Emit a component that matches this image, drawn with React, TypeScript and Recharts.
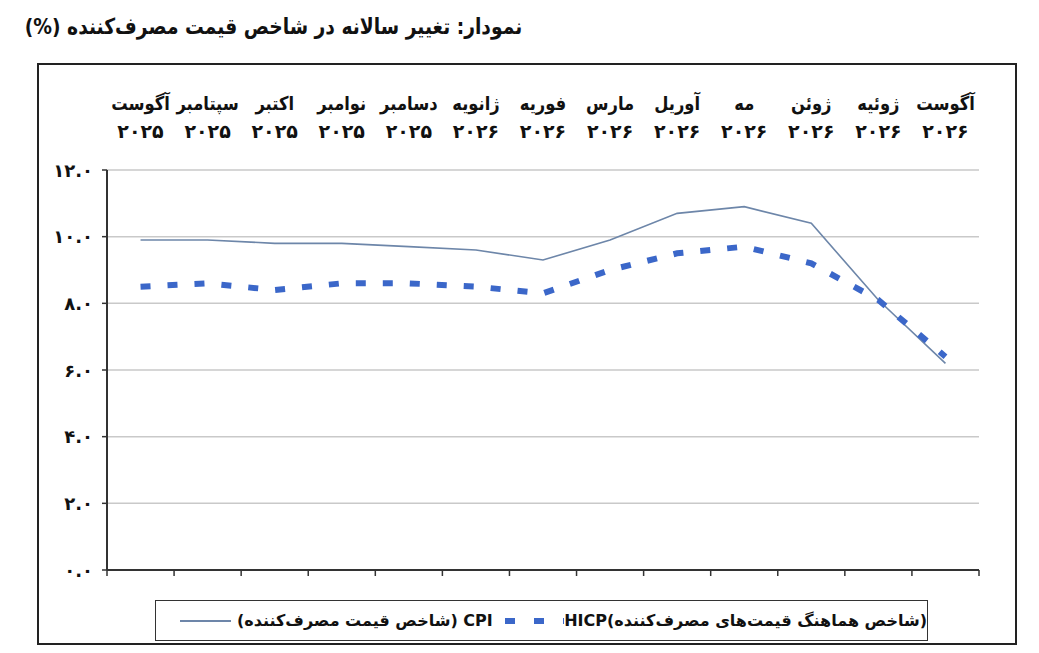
import React from 'react';
import { LineChart, Line, XAxis, YAxis, CartesianGrid, Legend } from 'recharts';

const months = ['آگوست', 'سپتامبر', 'اکتبر', 'نوامبر', 'دسامبر', 'ژانویه', 'فوریه', 'مارس', 'آوریل', 'مه', 'ژوئن', 'ژوئیه', 'آگوست'];
const years = ['۲۰۲۵', '۲۰۲۵', '۲۰۲۵', '۲۰۲۵', '۲۰۲۵', '۲۰۲۶', '۲۰۲۶', '۲۰۲۶', '۲۰۲۶', '۲۰۲۶', '۲۰۲۶', '۲۰۲۶', '۲۰۲۶'];
const cpi = [9.9, 9.9, 9.8, 9.8, 9.7, 9.6, 9.3, 9.9, 10.7, 10.9, 10.4, 8.1, 6.2];
const hicp = [8.5, 8.6, 8.4, 8.6, 8.6, 8.5, 8.3, 9.0, 9.5, 9.7, 9.2, 8.1, 6.4];
const yTicks = [0, 2, 4, 6, 8, 10, 12];
const yLabels = ['۰.۰', '۲.۰', '۴.۰', '۶.۰', '۸.۰', '۱۰.۰', '۱۲.۰'];
const title = 'نمودار: تغییر سالانه در شاخص قیمت مصرف‌کننده (%)';
const cpiName = 'CPI (شاخص قیمت مصرف‌کننده)';
const hicpName = '(شاخص هماهنگ قیمت‌های مصرف‌کننده)HICP';

const data = months.map((m, i) => ({ x: i + 0.5, month: m, year: years[i], cpi: cpi[i], hicp: hicp[i] }));
const boundaryTicks = months.map((_, i) => i).concat([months.length]);
const centerTicks = months.map((_, i) => i + 0.5);

const FONT = '"DejaVu Sans", sans-serif';
const CPI_COLOR = '#6d86a9';
const HICP_COLOR = '#3b67c9';

const YTick = (props: any) => {
  const { x, y, payload } = props;
  const idx = yTicks.indexOf(payload.value);
  return (
    <text x={x} y={y} textAnchor="end" dominantBaseline="central" fontFamily={FONT} fontWeight="bold" fontSize={18} fill="#111">
      {yLabels[idx]}
    </text>
  );
};

const TopTick = (props: any) => {
  const { x, y, payload } = props;
  const idx = Math.floor(payload.value);
  return (
    <g>
      <g transform={`translate(${x},${y - 60}) scale(0.86,1)`}>
        <text x={0} y={0} textAnchor="middle" fontFamily={FONT} fontWeight="bold" fontSize={19} fill="#111" direction="rtl">
          {months[idx]}
        </text>
      </g>
      <text x={x} y={y - 32} textAnchor="middle" fontFamily={FONT} fontWeight="bold" fontSize={19} letterSpacing={1.5} fill="#111">
        {years[idx]}
      </text>
    </g>
  );
};

const NoTick = () => <g />;

const LegendBox = () => (
  <div
    style={{
      boxSizing: 'border-box',
      width: '100%',
      height: '100%',
      border: '1.5px solid #333',
      background: '#fff',
      display: 'flex',
      alignItems: 'center',
      direction: 'ltr',
      paddingLeft: 24,
      fontFamily: FONT,
      fontWeight: 'bold',
      fontSize: 16,
      color: '#111',
      whiteSpace: 'nowrap',
    }}
  >
    <svg width={60} height={10} style={{ marginRight: 6 }}>
      <line x1={0} y1={5} x2={60} y2={5} stroke={CPI_COLOR} strokeWidth={2} />
    </svg>
    <span dir="rtl" style={{ unicodeBidi: 'isolate' }}>{cpiName}</span>
    <svg width={70} height={10} style={{ marginLeft: 12 }}>
      <line x1={0} y1={5} x2={70} y2={5} stroke={HICP_COLOR} strokeWidth={6} strokeDasharray="10 19" />
    </svg>
    <span dir="rtl" style={{ unicodeBidi: 'isolate' }}>{hicpName}</span>
  </div>
);

export default function App() {
  return (
    <div style={{ position: 'relative', width: 1023, height: 645, background: '#fff' }}>
      <div
        style={{
          position: 'absolute',
          right: 1023 - 514,
          top: 6,
          textAlign: 'right',
          direction: 'rtl',
          fontFamily: FONT,
          fontWeight: 'bold',
          fontSize: 22,
          color: '#111',
          whiteSpace: 'nowrap',
          transform: 'scaleX(0.85)',
          transformOrigin: 'right center',
        }}
      >
        {title}
      </div>
      <div
        style={{
          position: 'absolute',
          left: 29,
          top: 55,
          width: 980,
          height: 582,
          boxSizing: 'border-box',
          border: '2px solid #222',
        }}
      />
      <div style={{ position: 'absolute', left: 0, top: 0 }}>
        <LineChart width={1023} height={645} data={data} margin={{ top: 0, right: 52, bottom: 0, left: 0 }}>
          <CartesianGrid vertical={false} stroke="#c9c9c9" strokeWidth={1.5} />
          <XAxis
            dataKey="x"
            type="number"
            domain={[0, 13]}
            allowDataOverflow
            ticks={boundaryTicks}
            interval={0}
            height={83}
            axisLine={{ stroke: '#333', strokeWidth: 2 }}
            tickLine={{ stroke: '#333', strokeWidth: 1.5 }}
            tickSize={6}
            tick={NoTick}
          />
          <XAxis
            xAxisId="top"
            dataKey="x"
            type="number"
            orientation="top"
            domain={[0, 13]}
            allowDataOverflow
            ticks={centerTicks}
            interval={0}
            height={162}
            axisLine={false}
            tickLine={false}
            tickSize={0}
            tickMargin={0}
            tick={TopTick}
          />
          <YAxis
            type="number"
            domain={[0, 12]}
            ticks={yTicks}
            interval={0}
            width={99}
            axisLine={{ stroke: '#333', strokeWidth: 2 }}
            tickLine={{ stroke: '#333', strokeWidth: 1.5 }}
            tickSize={5}
            tickMargin={9}
            tick={YTick}
          />
          <Legend
            layout="horizontal"
            verticalAlign="middle"
            align="center"
            wrapperStyle={{ left: 147, top: 592, width: 773, height: 41 }}
            content={LegendBox}
          />
          <Line type="linear" dataKey="cpi" name={cpiName} stroke={CPI_COLOR} strokeWidth={1.6} dot={false} isAnimationActive={false} />
          <Line type="linear" dataKey="hicp" name={hicpName} stroke={HICP_COLOR} strokeWidth={6} strokeDasharray="10 17" dot={false} isAnimationActive={false} />
        </LineChart>
      </div>
    </div>
  );
}
